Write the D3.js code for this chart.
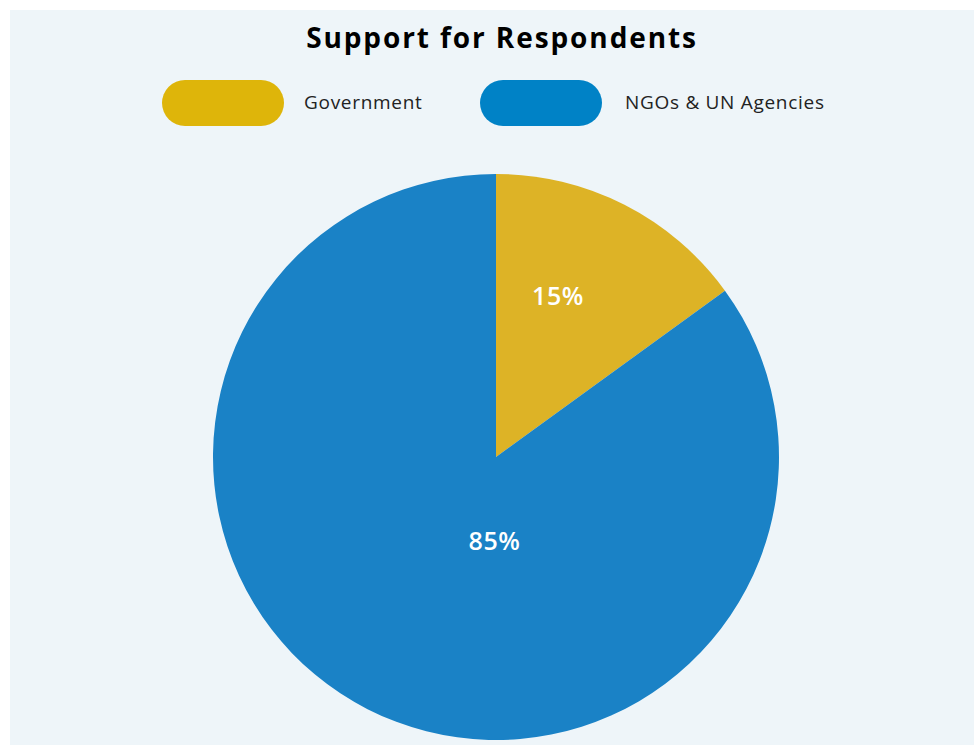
<!DOCTYPE html>
<html><head><meta charset="utf-8">
<script src="https://cdn.jsdelivr.net/npm/d3@7"></script>
<style>
html,body{margin:0;padding:0;background:#fff;}
svg{display:block;}
text{font-family:"Open Sans","Noto Sans",sans-serif;}
</style></head>
<body>
<script>
const title = "Support for Respondents";
const categories = ["Government", "NGOs & UN Agencies"];
const values = [15, 85];
const sliceColors = ["#DDB326", "#1A82C6"];
const legendColors = ["#DEB50A", "#0082C6"];

const W = 974, H = 746;
const svg = d3.select("body").append("svg").attr("width", W).attr("height", H);

svg.append("rect").attr("x", 10).attr("y", 10).attr("width", W - 10).attr("height", 735).attr("fill", "#EEF5F9");

svg.append("text").attr("x", 502).attr("y", 48).attr("text-anchor", "middle")
  .attr("font-size", 28).attr("font-weight", 700).attr("letter-spacing", 1.9)
  .attr("fill", "#000").text(title);

// legend
const legendX = d3.scalePoint().domain(categories).range([162, 480]);
const lg = svg.selectAll("g.leg").data(categories).enter().append("g")
  .attr("transform", d => `translate(${legendX(d)},80)`);
lg.append("rect").attr("width", 122).attr("height", 46).attr("rx", 23).attr("ry", 23)
  .attr("fill", (d, i) => legendColors[i]);
lg.append("text").attr("x", (d, i) => i === 0 ? 142 : 145).attr("y", 22).attr("dy", "0.35em")
  .attr("font-size", 19).attr("letter-spacing", 0.7).attr("fill", "#222").text(d => d);

// pie
const cx = 496, cy = 457, R = 283;
const pie = d3.pie().sort(null).value(d => d);
const arcs = pie(values);
const arc = d3.arc().innerRadius(0).outerRadius(R);
const g = svg.append("g").attr("transform", `translate(${cx},${cy})`);
g.selectAll("path").data(arcs).enter().append("path")
  .attr("d", arc).attr("fill", (d, i) => sliceColors[i]);

// label placement (layout): angle fraction within slice and radius fraction
const labelAt = [{t: 0.39, r: 0.61}, {t: 0.415, r: 0.297}];
g.selectAll("text.lbl").data(arcs).enter().append("text")
  .attr("transform", (d, i) => {
    const a = d.startAngle + (d.endAngle - d.startAngle) * labelAt[i].t;
    const p = d3.pointRadial(a, R * labelAt[i].r);
    return `translate(${p[0]},${p[1]})`;
  })
  .attr("text-anchor", "middle").attr("dy", "0.35em")
  .attr("font-size", 25).attr("font-weight", 600).attr("letter-spacing", 0.6).attr("fill", "#fff")
  .text(d => d.data + "%");
</script>
</body></html>
